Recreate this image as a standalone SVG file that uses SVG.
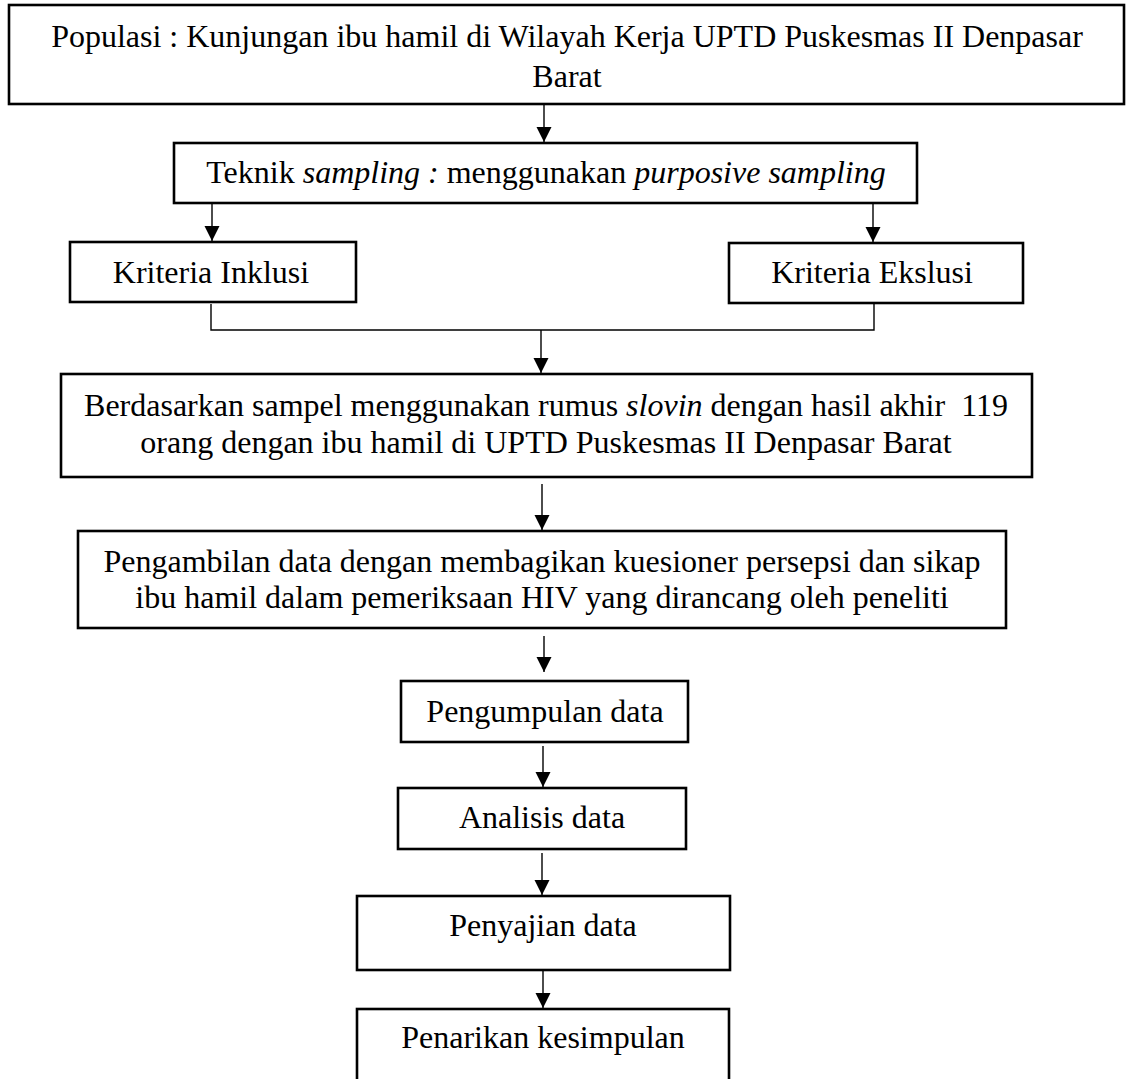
<svg xmlns="http://www.w3.org/2000/svg" width="1128" height="1079" viewBox="0 0 1128 1079">
<style>
.box{fill:#fff;stroke:#000;stroke-width:2.6}
.t{font-family:"Liberation Serif","Times New Roman",serif;font-size:32px;fill:#000;text-anchor:middle}
.i{font-style:italic}
.c{fill:none;stroke:#000;stroke-width:1.4}
</style>
<defs>
<marker id="ah" markerUnits="userSpaceOnUse" markerWidth="16" markerHeight="16" refX="15" refY="7.5" orient="auto">
<path d="M0,0 L15,7.5 L0,15 z" fill="#000"/>
</marker>
</defs>
<rect width="1128" height="1079" fill="#fff"/>
<g id="connectors">
<line class="c" x1="544" y1="105" x2="544" y2="142" marker-end="url(#ah)"/>
<line class="c" x1="212" y1="204" x2="212" y2="241" marker-end="url(#ah)"/>
<line class="c" x1="873" y1="204" x2="873" y2="242" marker-end="url(#ah)"/>
<polyline class="c" points="211,304 211,330 874,330 874,304"/>
<line class="c" x1="541" y1="330" x2="541" y2="373" marker-end="url(#ah)"/>
<line class="c" x1="542" y1="484" x2="542" y2="530" marker-end="url(#ah)"/>
<line class="c" x1="544" y1="636" x2="544" y2="672" marker-end="url(#ah)"/>
<line class="c" x1="543" y1="746" x2="543" y2="787" marker-end="url(#ah)"/>
<line class="c" x1="542" y1="853" x2="542" y2="895" marker-end="url(#ah)"/>
<line class="c" x1="543" y1="971" x2="543" y2="1008" marker-end="url(#ah)"/>
</g>
<g id="populasi">
<rect class="box" x="9" y="5" width="1115" height="99"/>
<text class="t" x="567" y="47">Populasi : Kunjungan ibu hamil di Wilayah Kerja UPTD Puskesmas II Denpasar</text>
<text class="t" x="567" y="87">Barat</text>
</g>
<g id="teknik">
<rect class="box" x="174" y="143" width="743" height="60"/>
<text class="t" x="546" y="183">Teknik <tspan class="i">sampling :</tspan> menggunakan <tspan class="i">purposive sampling</tspan></text>
</g>
<g id="inklusi">
<rect class="box" x="70" y="242" width="286" height="60"/>
<text class="t" x="211" y="283">Kriteria Inklusi</text>
</g>
<g id="ekslusi">
<rect class="box" x="729" y="243" width="294" height="60"/>
<text class="t" x="872" y="283">Kriteria Ekslusi</text>
</g>
<g id="sampel">
<rect class="box" x="61" y="374" width="971" height="103"/>
<text class="t" x="546" y="416" xml:space="preserve">Berdasarkan sampel menggunakan rumus <tspan class="i">slovin</tspan> dengan hasil akhir  119</text>
<text class="t" x="546" y="453">orang dengan ibu hamil di UPTD Puskesmas II Denpasar Barat</text>
</g>
<g id="pengambilan">
<rect class="box" x="78" y="531" width="928" height="97"/>
<text class="t" x="542" y="572">Pengambilan data dengan membagikan kuesioner persepsi dan sikap</text>
<text class="t" x="542" y="608">ibu hamil dalam pemeriksaan HIV yang dirancang oleh peneliti</text>
</g>
<g id="pengumpulan">
<rect class="box" x="401" y="681" width="287" height="61"/>
<text class="t" x="545" y="722">Pengumpulan data</text>
</g>
<g id="analisis">
<rect class="box" x="398" y="788" width="288" height="61"/>
<text class="t" x="542" y="828">Analisis data</text>
</g>
<g id="penyajian">
<rect class="box" x="357" y="896" width="373" height="74"/>
<text class="t" x="543" y="936">Penyajian data</text>
</g>
<g id="penarikan">
<rect class="box" x="357" y="1009" width="372" height="90"/>
<text class="t" x="543" y="1048">Penarikan kesimpulan</text>
</g>
</svg>
